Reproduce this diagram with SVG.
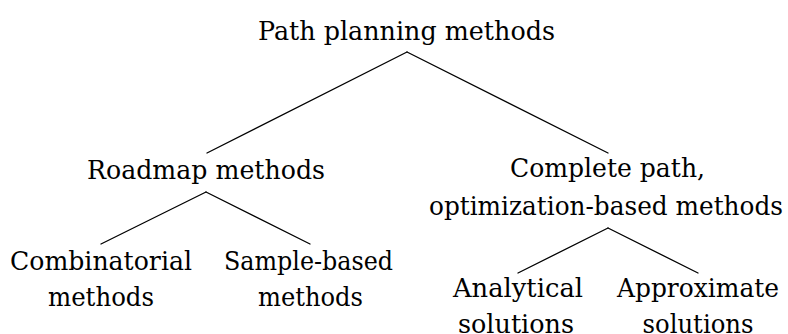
<svg xmlns="http://www.w3.org/2000/svg" width="788" height="334" viewBox="0 0 788 334">
<style>
text{font-family:'DejaVu Serif',serif;font-size:26px;fill:#000;text-anchor:middle}
.edge{stroke:#000;stroke-width:1.3;fill:none;stroke-linecap:round}
</style>
<rect width="788" height="334" fill="#fff"/>
<g id="connectors">
<line class="edge" x1="407" y1="52" x2="207" y2="153"/>
<line class="edge" x1="407" y1="52" x2="608" y2="153"/>
<line class="edge" x1="206" y1="192" x2="101" y2="244"/>
<line class="edge" x1="206" y1="192" x2="310" y2="244"/>
<line class="edge" x1="608" y1="228" x2="518" y2="273"/>
<line class="edge" x1="608" y1="228" x2="698" y2="273"/>
</g>
<g id="root"><text x="406.5" y="40" textLength="297" lengthAdjust="spacingAndGlyphs">Path planning methods</text></g>
<g id="roadmap"><text x="206" y="179" textLength="238" lengthAdjust="spacingAndGlyphs">Roadmap methods</text></g>
<g id="complete">
<text x="607.5" y="177" textLength="195" lengthAdjust="spacingAndGlyphs">Complete path,</text>
<text x="606" y="215" textLength="354" lengthAdjust="spacingAndGlyphs">optimization-based methods</text>
</g>
<g id="combinatorial">
<text x="101" y="270" textLength="182" lengthAdjust="spacingAndGlyphs">Combinatorial</text>
<text x="101" y="306" textLength="106" lengthAdjust="spacingAndGlyphs">methods</text>
</g>
<g id="sample">
<text x="308.5" y="270" textLength="169" lengthAdjust="spacingAndGlyphs">Sample-based</text>
<text x="310.5" y="306" textLength="105" lengthAdjust="spacingAndGlyphs">methods</text>
</g>
<g id="analytical">
<text x="518" y="297" textLength="130" lengthAdjust="spacingAndGlyphs">Analytical</text>
<text x="516" y="333" textLength="116" lengthAdjust="spacingAndGlyphs">solutions</text>
</g>
<g id="approximate">
<text x="698" y="297" textLength="162" lengthAdjust="spacingAndGlyphs">Approximate</text>
<text x="698" y="333" textLength="111" lengthAdjust="spacingAndGlyphs">solutions</text>
</g>
</svg>
